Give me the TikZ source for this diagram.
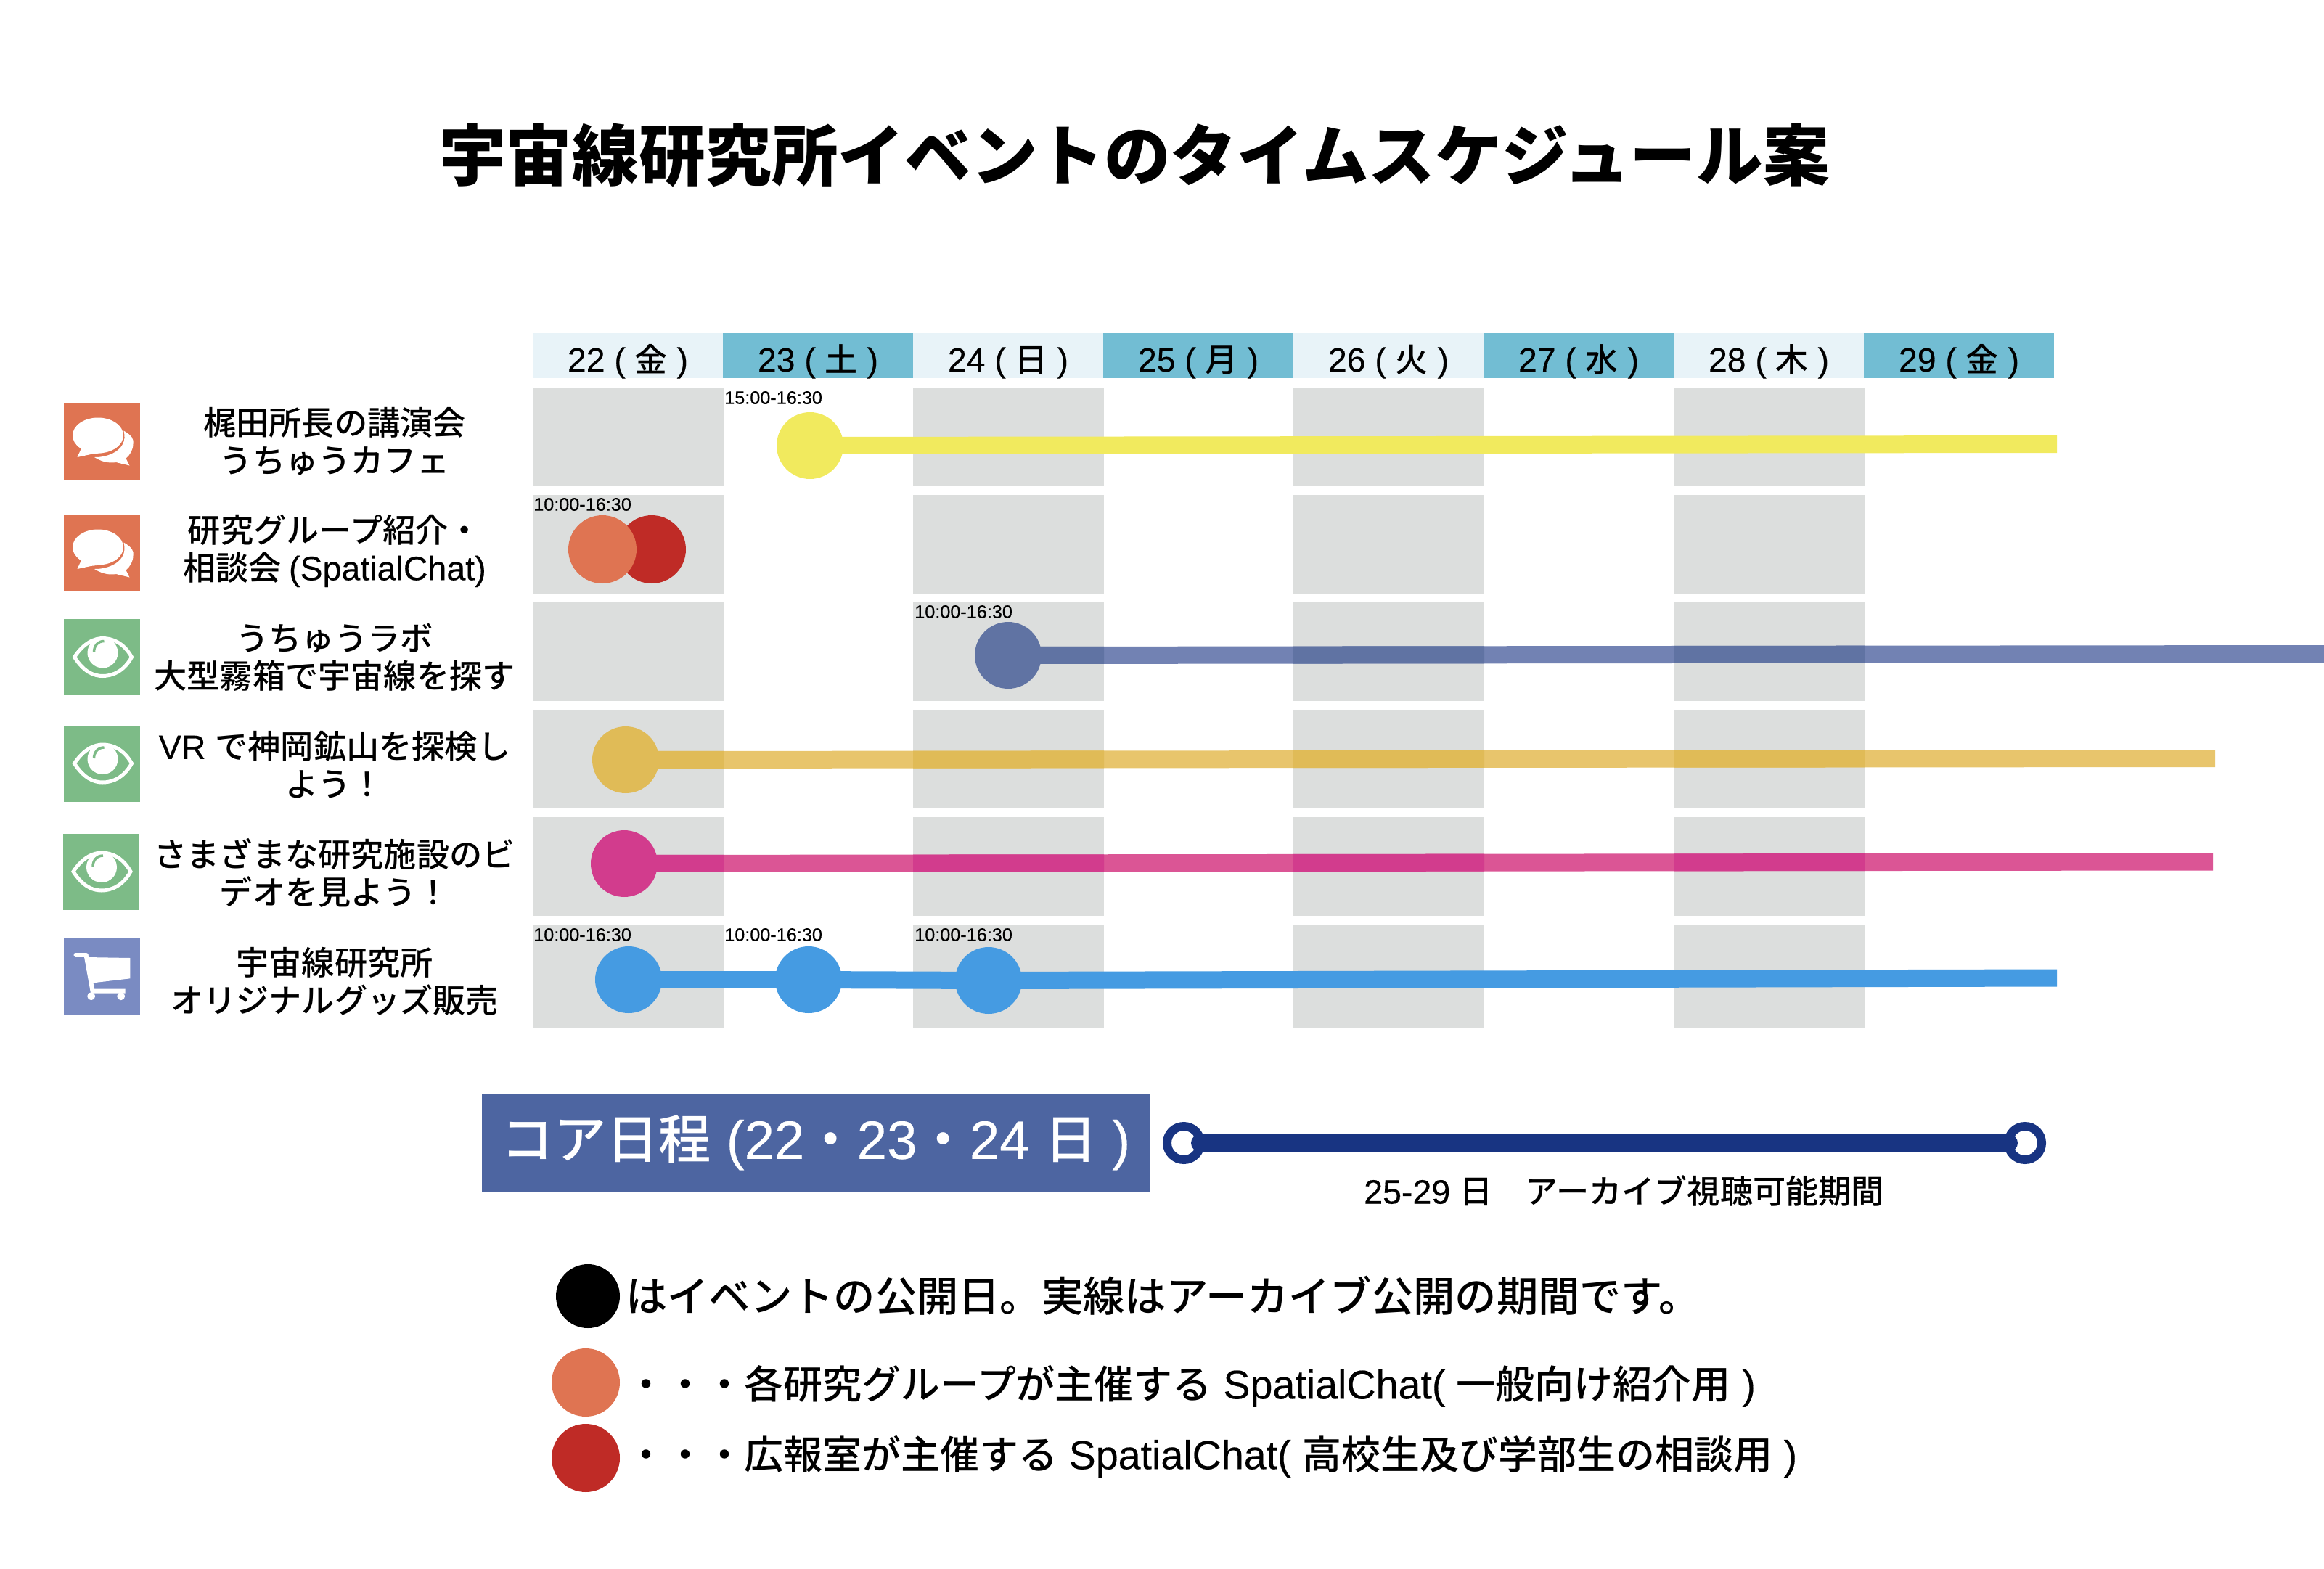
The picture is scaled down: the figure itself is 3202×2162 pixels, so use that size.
\documentclass[tikz,border=0pt]{standalone}
\usepackage{fontspec}
\setmainfont{Noto Sans CJK JP Medium}
\newfontfamily\la[Scale=1.03,FakeBold=0.3]{Liberation Sans}
\newfontfamily\titlefont{Noto Sans CJK JP Black}
\newcommand\La[1]{{\la #1}}
\usetikzlibrary{calc}
\pgfdeclarelayer{bg}\pgfdeclarelayer{lines}
\pgfsetlayers{bg,lines,main}
\definecolor{gcell}{HTML}{DCDEDD}
\definecolor{hlight}{HTML}{E8F3F8}
\definecolor{hdark}{HTML}{72BDD3}
\definecolor{iorange}{HTML}{DF7452}
\definecolor{igreen}{HTML}{7DBB87}
\definecolor{iblue}{HTML}{7A8BC2}
\definecolor{dred}{HTML}{BF2B26}
\definecolor{dyellow}{HTML}{F1EA5E}
\definecolor{slateL}{HTML}{7282B3}
\definecolor{slateD}{HTML}{6073A3}
\definecolor{goldL}{HTML}{E8C56C}
\definecolor{goldD}{HTML}{E0BB57}
\definecolor{pinkL}{HTML}{DB5595}
\definecolor{pinkD}{HTML}{D23C8D}
\definecolor{dblue}{HTML}{459BE2}
\definecolor{coreblue}{HTML}{4D65A1}
\definecolor{navy}{HTML}{183482}
\tikzset{
  hcell/.style={minimum width=262pt,minimum height=62pt,inner sep=0pt,outer sep=0pt,
    text height=44pt,text depth=0pt,font=\fontsize{45}{50}\selectfont},
  iconbox/.style={minimum width=105pt,minimum height=105pt,inner sep=0pt,outer sep=0pt},
  lbl/.style={align=center,inner sep=0pt,font=\fontsize{45.2}{52}\selectfont},
  tlbl/.style={anchor=west,inner sep=0pt,font=\la\fontsize{24.5}{30}\selectfont},
  dot/.style={circle,inner sep=0pt,outer sep=0pt,minimum size=92pt},
  bigdot/.style={circle,inner sep=0pt,outer sep=0pt,minimum size=94pt},
  ring/.style={circle,draw=navy,line width=12pt,inner sep=0pt,minimum size=46pt},
  tlline/.style={line width=24pt},
  legtxt/.style={anchor=west,inner sep=0pt},
  chaticon/.pic={
    \fill[white] (-5.5,-8.5) ellipse [x radius=35,y radius=24.5];
    \fill[white] (-28.5,9.5) -- (-34,21.5) -- (-15.5,17.5) -- (0,15.5) -- cycle;
    \fill[white] (30,-15) .. controls (42,-8) and (44,-3) .. (43,3)
       .. controls (43,11) and (39,18) .. (33,23) -- (38,33) -- (19.5,28.5)
       .. controls (9,30) and (0,28) .. (-10.5,21.5)
       .. controls (8,22) and (37,12) .. (30,-15) -- cycle;
  },
  eyeicon/.pic={
    \draw[white,line width=5pt] (-38,0) .. controls (-25,-20) and (-10,-26) .. (1,-26)
       .. controls (14,-26) and (30,-20) .. (41,0)
       .. controls (30,20) and (14,26) .. (1,26)
       .. controls (-12,26) and (-25,20) .. (-38,0) -- cycle;
    \fill[white] (1,-6) circle [radius=21];
    \draw[igreen,line width=3.5pt] (3,-22) .. controls (-6,-22) and (-11,-15) .. (-11,-7);
  },
  carticon/.pic={
    \draw[white,line width=6pt,line cap=round] (-36,-30) -- (-22,-30);
    \draw[white,line width=6pt] (-22,-30) -- (-13,20) -- (32,20);
    \fill[white] (-21.2,-26.5) -- (38.8,-25.5) -- (38.8,2.8) -- (-12.2,8.8) -- (-17.2,9.5) -- cycle;
    \fill[white] (-14.8,27.2) circle [radius=5.5];
    \fill[white] (26.2,27.2) circle [radius=5.5];
  }
}
% connector with a darker tone where it crosses a grey column
\newcommand\archline[6]{% start, end, light, dark, y0, y1
  \draw[tlline,#3] (#1) -- (#2);
  \foreach \cx in {734,1258,1782,2306}{
    \begin{scope}
      \clip (\cx,#5) rectangle (\cx+263,#6);
      \draw[tlline,#4] (#1) -- (#2);
    \end{scope}
  }
}
\begin{document}
\begin{tikzpicture}[x=1pt,y=-1pt]
\useasboundingbox (0,0) rectangle (3202,2162);

% title
\node[inner sep=0pt,font=\titlefont\fontsize{91.6}{100}\selectfont] (title) at (1563,214) {宇宙線研究所イベントのタイムスケジュール案};

% grey columns
\begin{pgfonlayer}{bg}
\foreach \cx in {734,1258,1782,2306}{
  \foreach \ya/\yb in {534/670,682/818,830/966,978/1114,1126/1262,1274/1417}{
    \fill[gcell] (\cx,\ya) rectangle (\cx+263,\yb);
  }
}
\end{pgfonlayer}

% header
\node[hcell,fill=hlight] (h1) at (865,490) {\La{22 ( }金\La{ )}};
\node[hcell,fill=hdark]  (h2) at (1127,490) {\La{23 ( }土\La{ )}};
\node[hcell,fill=hlight] (h3) at (1389,490) {\La{24 ( }日\La{ )}};
\node[hcell,fill=hdark]  (h4) at (1651,490) {\La{25 ( }月\La{ )}};
\node[hcell,fill=hlight] (h5) at (1913,490) {\La{26 ( }火\La{ )}};
\node[hcell,fill=hdark]  (h6) at (2175,490) {\La{27 ( }水\La{ )}};
\node[hcell,fill=hlight] (h7) at (2437,490) {\La{28 ( }木\La{ )}};
\node[hcell,fill=hdark]  (h8) at (2699,490) {\La{29 ( }金\La{ )}};

% icons
\node[iconbox,fill=iorange] (i1) at (140.5,608.5) {};
\node[iconbox,fill=iorange] (i2) at (140.5,762.5) {};
\node[iconbox,fill=igreen]  (i3) at (140.5,905.5) {};
\node[iconbox,fill=igreen]  (i4) at (140.5,1052) {};
\node[iconbox,fill=igreen]  (i5) at (139,1201) {};
\node[iconbox,fill=iblue]   (i6) at (140.5,1345.5) {};
\pic at (i1) {chaticon};
\pic at (i2) {chaticon};
\pic at (i3) {eyeicon};
\pic at (i4) {eyeicon};
\pic at (i5) {eyeicon};
\pic at (i6) {carticon};

% row labels
\node[lbl] (l1) at (461,608) {梶田所長の講演会\\うちゅうカフェ};
\node[lbl] (l2) at (461,759) {研究グループ紹介・\\相談会 \La{(SpatialChat)}};
\node[lbl] (l3) at (461,906) {うちゅうラボ\\大型霧箱で宇宙線を探す};
\node[lbl] (l4) at (461,1054) {\La{VR }で神岡鉱山を探検し\\よう！};
\node[lbl] (l5) at (461,1203) {さまざまな研究施設のビ\\デオを見よう！};
\node[lbl] (l6) at (461,1352) {宇宙線研究所\\オリジナルグッズ販売};

% time labels
\node[tlbl] (t1) at (998,548) {15:00-16:30};
\node[tlbl] (t2) at (735,695) {10:00-16:30};
\node[tlbl] (t3) at (1260,843) {10:00-16:30};
\node[tlbl] (t4) at (735,1288) {10:00-16:30};
\node[tlbl] (t5) at (998,1288) {10:00-16:30};
\node[tlbl] (t6) at (1260,1288) {10:00-16:30};

% event dots
\node[dot,fill=dyellow] (d1) at (1116,614) {};
\node[bigdot,fill=dred] (d2b) at (898,757) {};
\node[bigdot,fill=iorange] (d2a) at (830,757) {};
\node[dot,fill=slateD] (d3) at (1389,903) {};
\node[dot,fill=goldD] (d4) at (862,1047) {};
\node[dot,fill=pinkD] (d5) at (860,1190) {};
\node[dot,fill=dblue] (d6a) at (866,1350) {};
\node[dot,fill=dblue] (d6b) at (1114,1350) {};
\node[dot,fill=dblue] (d6c) at (1362,1351) {};

% free line ends
\coordinate (e1) at (2834,612);
\coordinate (e3) at (3202,901);
\coordinate (e4) at (3052,1045);
\coordinate (e5) at (3049,1187.5);
\coordinate (e6) at (2834,1347.5);

\begin{pgfonlayer}{lines}
\draw[tlline,dyellow] (d1.center) -- (e1);
\archline{d3.center}{e3}{slateL}{slateD}{830}{966}
\archline{d4.center}{e4}{goldL}{goldD}{978}{1114}
\archline{d5.center}{e5}{pinkL}{pinkD}{1126}{1262}
\draw[tlline,dblue] (d6a.center) -- (d6b.center);
\draw[tlline,dblue] (d6b.center) -- (d6c.center);
\draw[tlline,dblue] (d6c.center) -- (e6);
\end{pgfonlayer}

% core period
\node[fill=coreblue,text=white,inner sep=0pt,minimum width=920pt,minimum height=135pt,
  font=\fontsize{72.3}{80}\selectfont] (core) at (1124,1574.5)
  {コア日程\La{ (22}・\La{23}・\La{24 }日\La{ )}};
\node[ring] (rl) at (1631,1575) {};
\node[ring] (rr) at (2790,1575) {};
\draw[tlline,navy,line cap=round,shorten <=-7pt,shorten >=-7pt] (rl) -- (rr);
\node[anchor=west,inner sep=0pt,font=\fontsize{45.2}{50}\selectfont] (arch) at (1879,1641)
  {\La{25-29 }日　アーカイブ視聴可能期間};

% legend
\node[circle,fill=black,inner sep=0pt,minimum size=88pt] (k1) at (810,1786) {};
\node[bigdot,fill=iorange] (k2) at (807,1905) {};
\node[bigdot,fill=dred] (k3) at (807,2009) {};
\node[legtxt,font=\fontsize{57.3}{60}\selectfont] (kt1) at (862,1785)
  {はイベントの公開日。実線はアーカイブ公開の期間です。};
\node[legtxt,font=\fontsize{54}{60}\selectfont] (kt2) at (863,1910)
  {・・・各研究グループが主催する\La{ SpatialChat( }一般向け紹介用\La{ )}};
\node[legtxt,font=\fontsize{54}{60}\selectfont] (kt3) at (863,2007)
  {・・・広報室が主催する\La{ SpatialChat( }高校生及び学部生の相談用\La{ )}};
\end{tikzpicture}
\end{document}
